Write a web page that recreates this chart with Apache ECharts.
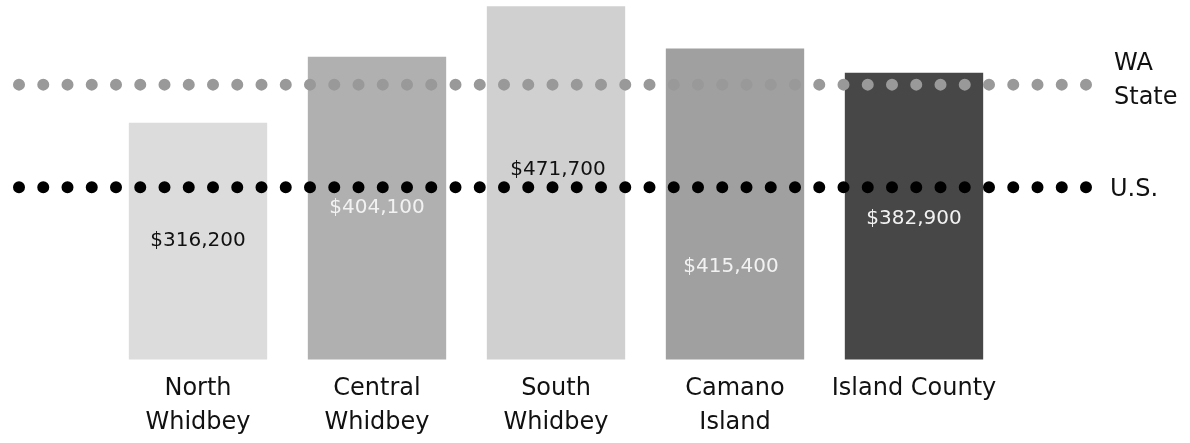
<!DOCTYPE html>
<html>
<head>
<meta charset="utf-8">
<script src="https://cdn.jsdelivr.net/npm/echarts@6/dist/echarts.min.js"></script>
<style>
html,body{margin:0;padding:0;background:#fff;}
#chart{width:1190px;height:443px;}
</style>
</head>
<body>
<div id="chart"></div>
<script>
// ---- data ----
var categories = ['North\nWhidbey', 'Central\nWhidbey', 'South\nWhidbey', 'Camano\nIsland', 'Island County'];
var medianValues = [316200, 404100, 471700, 415400, 382900];
var waStateValue = 367000;
var usValue = 230000;
var refLineNames = ['WA\nState', 'U.S.'];
// reference dotted lines run across the whole width of their own grid
var refLineSpan = [0, 1];

// ---- styles ----
var barColors = ['#dcdcdc', '#b0b0b0', '#d0d0d0', '#a0a0a0', '#474747'];
var labelColors = ['#111111', '#f2f2f2', '#111111', '#f2f2f2', '#f2f2f2'];
var labelPos = [[0, 118], [0, 151], [2, 164], [-4, 218], [0, 146]];
var FONT = '"DejaVu Sans", Verdana, sans-serif';
var Y_MAX = 480000;

function fmt(v) { return '$' + v.toString().replace(/\B(?=(\d{3})+(?!\d))/g, ','); }

var barData = medianValues.map(function (v, i) {
  return {
    value: v,
    itemStyle: { color: barColors[i] },
    label: {
      color: labelColors[i],
      position: ['50%', labelPos[i][1]],
      offset: [labelPos[i][0], 0]
    }
  };
});

var chart = echarts.init(document.getElementById('chart'), null, { renderer: 'canvas' });
chart.setOption({
  animation: false,
  grid: [
    { left: 108.5, right: 186.5, top: 0, bottom: 83.5, containLabel: false },
    { left: 19, right: 104, top: 0, bottom: 83.5, containLabel: false }
  ],
  xAxis: [
    {
      type: 'category',
      gridIndex: 0,
      data: categories,
      axisLine: { show: false },
      axisTick: { show: false },
      axisLabel: {
        color: '#111', fontFamily: FONT, fontSize: 24, lineHeight: 34,
        margin: 12, interval: 0, verticalAlign: 'top'
      }
    },
    { type: 'value', gridIndex: 1, min: 0, max: 1, show: false }
  ],
  yAxis: [
    { type: 'value', gridIndex: 0, min: 0, max: Y_MAX, show: false },
    { type: 'value', gridIndex: 1, min: 0, max: Y_MAX, show: false }
  ],
  series: [
    {
      type: 'bar',
      xAxisIndex: 0, yAxisIndex: 0,
      data: barData,
      barWidth: '77.3%',
      label: {
        show: true,
        fontFamily: FONT, fontSize: 20,
        align: 'center', verticalAlign: 'middle',
        formatter: function (p) { return fmt(p.value); }
      }
    },
    {
      type: 'line', name: refLineNames[0], xAxisIndex: 1, yAxisIndex: 1, clip: false, symbol: 'none',
      data: [[refLineSpan[0], waStateValue], [refLineSpan[1], waStateValue]],
      lineStyle: { color: '#999999', width: 12, type: [0.01, 24.24], cap: 'round' },
      endLabel: {
        show: true, formatter: '{a}', color: '#111', fontFamily: FONT, fontSize: 24,
        lineHeight: 34, align: 'left', verticalAlign: 'middle', distance: 0, offset: [28, -4]
      },
      z: 3,
      silent: true
    },
    {
      type: 'line', name: refLineNames[1], xAxisIndex: 1, yAxisIndex: 1, clip: false, symbol: 'none',
      data: [[refLineSpan[0], usValue], [refLineSpan[1], usValue]],
      lineStyle: { color: '#000000', width: 12, type: [0.01, 24.24], cap: 'round' },
      endLabel: {
        show: true, formatter: '{a}', color: '#111', fontFamily: FONT, fontSize: 24,
        lineHeight: 34, align: 'left', verticalAlign: 'middle', distance: 0, offset: [24, 3]
      },
      z: 3,
      silent: true
    }
  ]
});
</script>
</body>
</html>
